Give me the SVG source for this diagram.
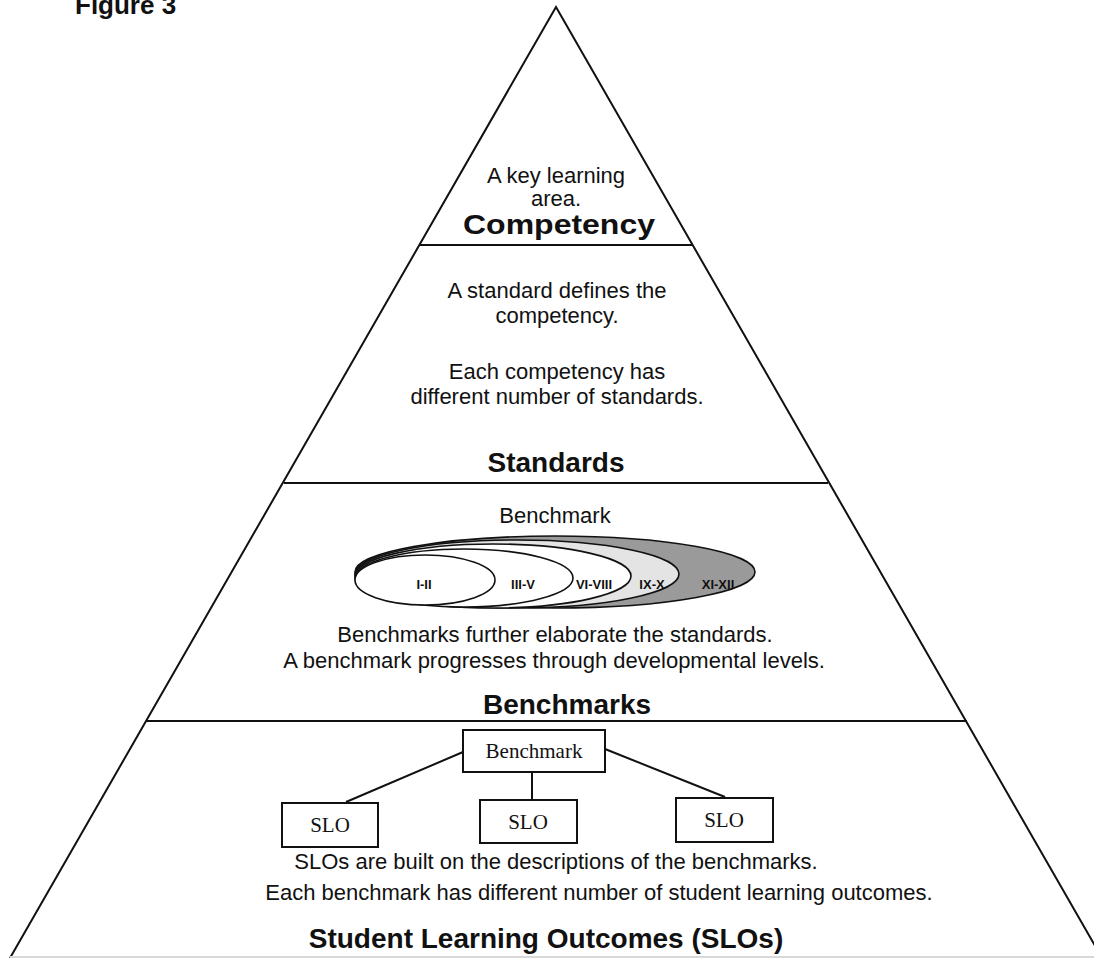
<svg xmlns="http://www.w3.org/2000/svg" width="1094" height="958" viewBox="0 0 1094 958">
<style>
.t{font-family:"Liberation Sans",Arial,sans-serif;font-size:22px;fill:#111;text-anchor:middle}
.h{font-family:"Liberation Sans",Arial,sans-serif;font-size:28px;font-weight:bold;fill:#111;text-anchor:middle}
.s{font-family:"Liberation Sans",Arial,sans-serif;font-size:13px;font-weight:bold;fill:#111;text-anchor:middle}
.b{font-family:"Liberation Serif","Times New Roman",serif;font-size:21px;fill:#111;text-anchor:middle}
.ln{stroke:#111;stroke-width:2;fill:none}
.box{fill:#fff;stroke:#111;stroke-width:2}
.el{stroke:#111;stroke-width:1.6}
</style>
<rect width="1094" height="958" fill="#fff"/>
<text x="75" y="14" font-family="Liberation Sans,Arial,sans-serif" font-size="26" font-weight="bold" fill="#111">Figure 3</text>
<g id="pyramid">
<polyline class="ln" points="10,958 556,7 1102,958" stroke-width="1.6"/>
<line class="ln" x1="419" y1="245" x2="693" y2="245"/>
<line class="ln" x1="284" y1="483" x2="828" y2="483"/>
<line class="ln" x1="146" y1="721" x2="967" y2="721"/>
<line x1="10" y1="957" x2="1094" y2="957" stroke="#d8d8d8" stroke-width="2"/>
</g>
<g id="competency">
<text class="t" x="556" y="183" font-size="24">A key learning</text>
<text class="t" x="556" y="206" font-size="24">area.</text>
<text class="h" x="559" y="234" font-size="30" textLength="192" lengthAdjust="spacingAndGlyphs">Competency</text>
</g>
<g id="standards">
<text class="t" x="557" y="298" font-size="22.5">A standard defines the</text>
<text class="t" x="557" y="323" font-size="22.5">competency.</text>
<text class="t" x="557" y="379" font-size="22.5">Each competency has</text>
<text class="t" x="557" y="404" font-size="22.5">different number of standards.</text>
<text class="h" x="556" y="472" font-size="27">Standards</text>
</g>
<g id="benchmarks">
<text class="t" x="555" y="523" font-size="17">Benchmark</text>
<ellipse class="el" cx="555" cy="572" rx="200" ry="36" fill="#9a9a9a"/>
<ellipse class="el" cx="517" cy="574" rx="162" ry="34" fill="#e4e4e4"/>
<ellipse class="el" cx="493" cy="576" rx="138" ry="32" fill="#fff"/>
<ellipse class="el" cx="464" cy="578" rx="109" ry="29" fill="#fff"/>
<ellipse class="el" cx="425" cy="580" rx="70" ry="25" fill="#fff"/>
<text class="s" x="424" y="589">I-II</text>
<text class="s" x="523" y="589">III-V</text>
<text class="s" x="594" y="589">VI-VIII</text>
<text class="s" x="652" y="589">IX-X</text>
<text class="s" x="718" y="589">XI-XII</text>
<text class="t" x="555" y="642">Benchmarks further elaborate the standards.</text>
<text class="t" x="554" y="668">A benchmark progresses through developmental levels.</text>
<text class="h" x="567" y="714" font-size="27">Benchmarks</text>
</g>
<g id="connectors">
<line class="ln" x1="463" y1="752" x2="346" y2="802"/>
<line class="ln" x1="532" y1="772" x2="532" y2="800"/>
<line class="ln" x1="605" y1="749" x2="725" y2="797"/>
</g>
<g id="box-benchmark">
<rect class="box" x="463" y="730" width="142" height="42"/>
<text class="b" x="534" y="758">Benchmark</text>
</g>
<g id="slo-left">
<rect class="box" x="282" y="803" width="96" height="44"/>
<text class="b" x="330" y="832">SLO</text>
</g>
<g id="slo-mid">
<rect class="box" x="480" y="800" width="97" height="43"/>
<text class="b" x="528" y="829">SLO</text>
</g>
<g id="slo-right">
<rect class="box" x="676" y="798" width="97" height="44"/>
<text class="b" x="724" y="827">SLO</text>
</g>
<g id="slos">
<text class="t" x="556" y="869">SLOs are built on the descriptions of the benchmarks.</text>
<text class="t" x="599" y="900">Each benchmark has different number of student learning outcomes.</text>
<text class="h" x="546" y="948" font-size="32">Student Learning Outcomes (SLOs)</text>
</g>
</svg>
